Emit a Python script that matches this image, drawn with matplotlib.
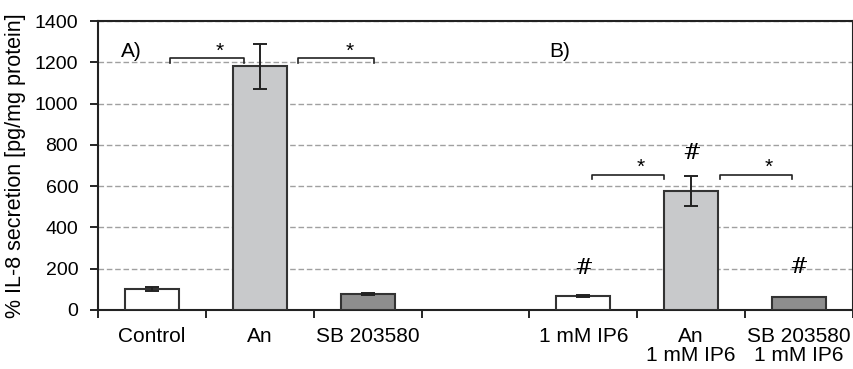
# IL-8 secretion bar chart, groups A) and B)
import matplotlib
matplotlib.use("Agg")
import matplotlib.pyplot as plt

plt.rcParams['font.family'] = ['Liberation Sans', 'DejaVu Sans']

labels = ["Control", "An", "SB 203580", "", "1 mM IP6", "An\n1 mM IP6", "SB 203580\n1 mM IP6"]
values = [100, 1180, 78, 0, 68, 575, 62]
errors = [10, 110, 6, 0, 5, 72, 0]
colors = ["white", "#c8c9cb", "#8e8e8e", "white", "white", "#c8c9cb", "#8e8e8e"]
hash_marks = [4, 5, 6]           # bars marked with '#'
hash_y = [150, 705, 155]
# significance brackets: (x start, x end, level)
brackets = [(0.17, 0.85, 1220), (1.35, 2.06, 1220), (4.08, 4.75, 655), (5.27, 5.93, 655)]

fig = plt.figure(figsize=(8.54, 3.69), dpi=100)
ax = fig.add_axes([0.1148, 0.16, 0.884, 0.783])

x = list(range(len(labels)))
for i in x:
    if i == 3:
        continue
    ax.bar(i, values[i], width=0.5, color=colors[i], edgecolor="#333333", linewidth=1.5, zorder=3)
    if errors[i] > 0:
        ax.errorbar(i, values[i], yerr=errors[i], color="#222222", capsize=5, elinewidth=1.4,
                    capthick=1.4, zorder=4)

ax.set_ylim(0, 1400)
ax.set_xlim(-0.5, 6.5)
ax.set_yticks(range(0, 1401, 200))
ax.yaxis.grid(True, linestyle=(0, (4, 2)), color="#a0a0a0", linewidth=1.0, zorder=0)

ax.set_xticks([i - 0.5 for i in range(8)])
ax.set_xticklabels([])
ax.set_xticks(x, minor=True)
ax.set_xticklabels(labels, minor=True, fontsize=15, linespacing=1.0)
ax.tick_params(axis="x", which="major", direction="out", length=6, width=1.2)
ax.tick_params(axis="x", which="minor", length=0, pad=12)
ax.tick_params(axis="y", direction="out", length=5.8, width=1.2, labelsize=14, pad=8.5)
for s in ax.spines.values():
    s.set_linewidth(1.5)
    s.set_color("#222222")

ax.set_ylabel("% IL-8 secretion [pg/mg protein]", fontsize=15.5, labelpad=6)

for x0, x1, y in brackets:
    ax.plot([x0, x0, x1, x1], [y - 22, y, y, y - 22], color="#222222", linewidth=1.2, zorder=5)
    ax.text(x0 + 0.68 * (x1 - x0), y - 12, "*", ha="center", va="bottom", fontsize=15)

for i, y in zip(hash_marks, hash_y):
    ax.text(i, y, "#", ha="center", va="bottom", fontsize=16, family="DejaVu Serif")

ax.text(-0.19, 1250, "A)", fontsize=15, ha="center", va="center")
ax.text(3.78, 1250, "B)", fontsize=15, ha="center", va="center")

fig.savefig("out.png", dpi=100)
